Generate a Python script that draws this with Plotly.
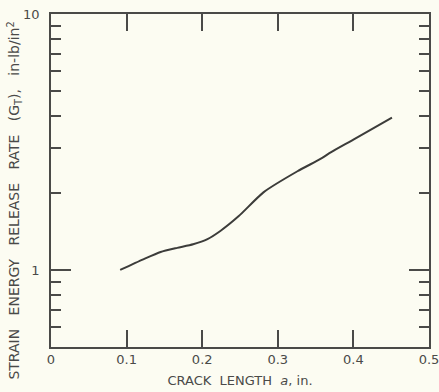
import math
import plotly.graph_objects as go

# Data
crack_length = [0.0915, 0.122, 0.145, 0.167, 0.188, 0.207, 0.224, 0.248, 0.281, 0.326, 0.357, 0.370, 0.400, 0.451]
strain_energy = [1.00, 1.10, 1.175, 1.22, 1.26, 1.32, 1.42, 1.62, 2.01, 2.43, 2.72, 2.88, 3.23, 3.94]

x_tick_vals = [0, 0.1, 0.2, 0.3, 0.4, 0.5]
x_tick_text = ["0", "0.1", "0.2", "0.3", "0.4", "0.5"]
y_major_vals = [1, 10]
y_major_text = ["1", "10"]
y_minor_vals = [0.6, 0.7, 0.8, 0.9, 2, 3, 4, 5, 6, 7, 8, 9]

ink = "#4a4a48"
bg = "#fcfcf2"
font_family = "DejaVu Sans"
sp = "\u00a0\u00a0"
sp3 = "\u00a0\u00a0\u00a0"

fig = go.Figure()
fig.add_trace(go.Scatter(
    x=crack_length, y=strain_energy, mode="lines",
    line=dict(color="#3c3c3a", width=2, shape="spline", smoothing=0.6),
    showlegend=False, hoverinfo="skip",
))

fig.update_layout(
    width=439, height=392,
    margin=dict(l=51, r=10, t=14, b=45),
    paper_bgcolor=bg, plot_bgcolor=bg,
    font=dict(family=font_family, size=13, color=ink),
    xaxis=dict(
        range=[0, 0.5], showgrid=False, zeroline=False, automargin=False,
        showline=True, linecolor=ink, linewidth=1.5, mirror="ticks",
        ticks="inside", ticklen=17, tickwidth=1.5, tickcolor=ink,
        tickmode="array", tickvals=x_tick_vals, ticktext=x_tick_text,
        tickfont=dict(size=13, color=ink), ticklabeloverflow="allow",
        title=dict(text="CRACK" + sp + "LENGTH" + sp + "<i>a</i>, in.",
                   font=dict(size=13, color=ink), standoff=10),
    ),
    yaxis=dict(
        type="log", range=[math.log10(0.5), 1], showgrid=False, zeroline=False,
        automargin=False,
        showline=True, linecolor=ink, linewidth=1.5, mirror="ticks",
        ticks="inside", ticklen=20, tickwidth=1.5, tickcolor=ink,
        tickmode="array", tickvals=y_major_vals, ticktext=y_major_text,
        tickfont=dict(size=13, color=ink), ticklabelstandoff=7,
        ticklabeloverflow="allow",
        minor=dict(tickmode="array", tickvals=y_minor_vals, ticks="inside",
                   ticklen=10, tickwidth=1.5, tickcolor=ink),
    ),
)

fig.add_annotation(
    text="STRAIN" + sp3 + "ENERGY" + sp3 + "RELEASE" + sp3 + "RATE" + sp3 + "(G<sub>T</sub>),"
         + sp3 + "in-lb/in<sup>2</sup>",
    xref="paper", yref="paper", x=-0.095, y=0.44,
    xanchor="center", yanchor="middle", textangle=-90, showarrow=False,
    font=dict(size=14, color=ink, family=font_family),
)

fig.write_html(
    "out.html",
    config={"displayModeBar": False},
    post_script="document.body.style.margin='0';document.body.style.background='" + bg + "';",
)
